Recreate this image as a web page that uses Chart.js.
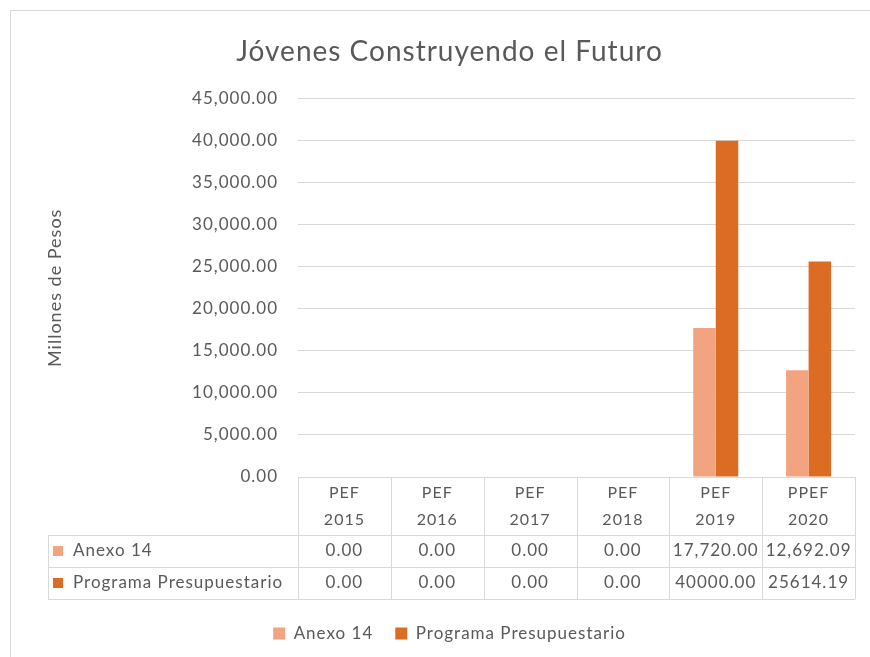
<!DOCTYPE html>
<html lang="es">
<head>
<meta charset="UTF-8">
<script src="https://cdn.jsdelivr.net/npm/chart.js"></script>
<title>Jóvenes Construyendo el Futuro</title>
<style>
  body { margin: 0; background: #fff; }
  #wrap { width: 870px; height: 657px; position: relative; }
</style>
</head>
<body>
<div id="wrap"><canvas id="chart"></canvas></div>
<script>
// data
const categories = [['PEF', '2015'], ['PEF', '2016'], ['PEF', '2017'], ['PEF', '2018'], ['PEF', '2019'], ['PPEF', '2020']];
const anexo14 = [0, 0, 0, 0, 17720, 12692.09];
const programa = [0, 0, 0, 0, 40000, 25614.19];
const seriesNames = ['Anexo 14', 'Programa Presupuestario'];
const seriesColors = ['#F2A37F', '#DC6B23'];
const tableGrouping = [true, false]; // the table prints the second row without thousands separators
const yTicks = { max: 45000, step: 5000 };

const textColor = '#595959';
const lineColor = '#d9d9d9';
const font = 'Lato, "Open Sans", sans-serif';

function fmt(v, grouping) {
  return v.toLocaleString('en-US', { minimumFractionDigits: 2, maximumFractionDigits: 2, useGrouping: grouping });
}

// the original text is a wide bitmap font, so space the letters out a bit
function spacing(chart) { chart.ctx.letterSpacing = '1px'; }

// frame + data table under the plot
const tablePlugin = {
  id: 'tablePlugin',
  beforeUpdate: spacing,
  beforeLayout: spacing,
  beforeDraw(chart) {
    spacing(chart);
    const ctx = chart.ctx;
    ctx.save();
    ctx.fillStyle = '#fff';
    ctx.fillRect(0, 0, chart.width, chart.height);
    ctx.strokeStyle = lineColor;
    ctx.lineWidth = 1;
    ctx.strokeRect(10.5, 10.5, chart.width + 10, chart.height + 10);
    ctx.restore();
  },
  afterDraw(chart) {
    const ctx = chart.ctx;
    const x = chart.scales.x;
    const area = chart.chartArea;
    const colW = area.width / categories.length;
    const top = area.bottom;
    const headH = 58, rowH = 32;
    const tableLeft = 48;
    const rowTops = [top + headH, top + headH + rowH];
    const bottom = top + headH + rowH * 2;

    ctx.save();
    ctx.strokeStyle = lineColor;
    ctx.lineWidth = 1;
    ctx.beginPath();
    ctx.moveTo(area.left, Math.round(top) + 0.5); ctx.lineTo(area.right, Math.round(top) + 0.5);
    [rowTops[0], rowTops[1], bottom].forEach(y => {
      ctx.moveTo(tableLeft, Math.round(y) + 0.5); ctx.lineTo(area.right, Math.round(y) + 0.5);
    });
    for (let i = 0; i <= categories.length; i++) {
      const xx = Math.round(area.left + i * colW) + 0.5;
      ctx.moveTo(xx, top); ctx.lineTo(xx, bottom);
    }
    ctx.moveTo(tableLeft + 0.5, rowTops[0]); ctx.lineTo(tableLeft + 0.5, bottom);
    ctx.stroke();

    ctx.fillStyle = textColor;
    ctx.font = '16px ' + font;
    ctx.textAlign = 'center';
    ctx.textBaseline = 'middle';
    categories.forEach((c, i) => {
      const cx = x.getPixelForValue(i);
      ctx.fillText(c[0], cx, top + 16);
      ctx.fillText(c[1], cx, top + 43);
    });
    ctx.font = '17px ' + font;
    chart.data.datasets.forEach((ds, r) => {
      const cy = rowTops[r] + rowH / 2;
      ctx.textAlign = 'left';
      ctx.fillStyle = seriesColors[r];
      ctx.fillRect(tableLeft + 5, cy - 5, 10, 10);
      ctx.fillStyle = textColor;
      ctx.fillText(ds.label, tableLeft + 25, cy);
      ctx.textAlign = 'center';
      ds.data.forEach((v, i) => {
        ctx.fillText(fmt(v, tableGrouping[r]), x.getPixelForValue(i), cy);
      });
    });
    ctx.restore();
  }
};

new Chart(document.getElementById('chart'), {
  type: 'bar',
  data: {
    labels: categories,
    datasets: [
      { label: seriesNames[0], data: anexo14, backgroundColor: seriesColors[0] },
      { label: seriesNames[1], data: programa, backgroundColor: seriesColors[1] }
    ]
  },
  options: {
    responsive: true,
    maintainAspectRatio: false,
    animation: false,
    datasets: { bar: { categoryPercentage: 0.485, barPercentage: 1 } },
    layout: { padding: { left: 44, right: 15, top: 0, bottom: 5 } },
    plugins: {
      title: {
        display: true,
        text: 'Jóvenes Construyendo el Futuro',
        color: textColor,
        font: { family: font, size: 28, weight: 'normal' },
        padding: { top: 35, bottom: 30 }
      },
      legend: {
        position: 'bottom',
        labels: {
          color: textColor,
          boxWidth: 12,
          boxHeight: 12,
          padding: 22,
          font: { family: font, size: 17 }
        }
      },
      tooltip: { enabled: false }
    },
    scales: {
      x: {
        ticks: { display: false },
        grid: { display: false },
        border: { display: false },
        afterFit(scale) { scale.height = 126; }
      },
      y: {
        min: 0,
        max: yTicks.max,
        ticks: {
          stepSize: yTicks.step,
          color: textColor,
          padding: 20,
          font: { family: font, size: 17 },
          callback: v => fmt(v, true)
        },
        grid: { color: lineColor, drawTicks: false },
        border: { display: false },
        title: {
          display: true,
          text: 'Millones de Pesos',
          color: textColor,
          font: { family: font, size: 18 },
          padding: 0
        },
        afterFit(scale) { scale.width = 254; }
      }
    }
  },
  plugins: [tablePlugin]
});
</script>
</body>
</html>
